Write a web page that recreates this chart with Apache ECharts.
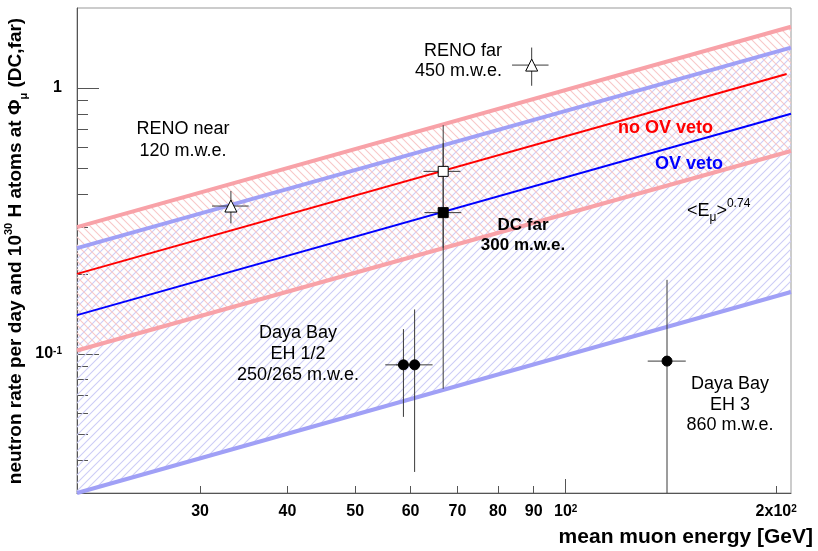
<!DOCTYPE html>
<html>
<head>
<meta charset="utf-8">
<script src="https://cdn.jsdelivr.net/npm/echarts@6/dist/echarts.min.js"></script>
<style>
  html, body { margin: 0; padding: 0; background: #fff; }
  #chart { width: 818px; height: 551px; }
</style>
</head>
<body>
<div id="chart"></div>
<script>
// axis ranges
const xRange = [20, 210];
const yRange = [0.03, 2];

// ticks and labels
const xMajorTicks = [100];
const xMinorTicks = [30, 40, 50, 60, 70, 80, 90, 200];
const xLabelValues = [30, 40, 50, 60, 70, 80, 90, 100, 200];
const xLabelTexts = ['30', '40', '50', '60', '70', '80', '90', '10{sup|2}', '2x10{sup|2}'];
const yMajorTicks = [0.1, 1];
const yMinorTicks = [0.04, 0.05, 0.06, 0.07, 0.08, 0.09, 0.2, 0.3, 0.4, 0.5, 0.6, 0.7, 0.8, 0.9];
const yLabelValues = [0.1, 1];
const yLabelTexts = ['10{sup|-1}', '1'];

// <E_mu>^0.74 model lines, end points
const lineE = [20, 210];
const noVetoE = [20, 207];
const noVeto = [0.2, 1.13];
const ovVeto = [0.14, 0.80];
const noVetoUp = [0.30, 1.70];
const noVetoLow = [0.103, 0.58];
const ovVetoUp = [0.25, 1.42];
const ovVetoLow = [0.03, 0.171];

// measurements: [E, rate, E low, E high, rate low, rate high]
const renoPts = [[33.2, 0.36, 31.2, 35.2, 0.31, 0.41], [89.4, 1.22, 83.8, 94.5, 1.02, 1.42]];
const dcNoVetoPts = [[66.8, 0.486, 62.6, 70.7, 0.251, 0.725]];
const dcVetoPts = [[66.8, 0.34, 62.8, 70.9, 0.074, 0.62]];
const dayaBayPts = [[58.6, 0.091, 55.2, 62.0, 0.058, 0.124], [60.8, 0.091, 57.2, 64.5, 0.036, 0.147], [139.6, 0.094, 131, 148.5, 0.03, 0.19]];

const FONT = "'Liberation Sans', Arial, sans-serif";

function hatch(color, dir) {
    const c = document.createElement('canvas');
    c.width = 8; c.height = 8;
    const g = c.getContext('2d');
    g.strokeStyle = color;
    g.lineWidth = 1.1;
    g.beginPath();
    if (dir > 0) { // "/"
        g.moveTo(-2, 10); g.lineTo(10, -2);
        g.moveTo(-2, 2); g.lineTo(2, -2);
        g.moveTo(6, 10); g.lineTo(10, 6);
    } else { // "\"
        g.moveTo(-2, -2); g.lineTo(10, 10);
        g.moveTo(6, -2); g.lineTo(10, 2);
        g.moveTo(-2, 6); g.lineTo(2, 10);
    }
    g.stroke();
    return { image: c, repeat: 'repeat' };
}

function band(lo, hi, fill) {
    return {
        type: 'custom', silent: true, z: 1,
        data: [[lineE[0], lo[0]]],
        renderItem: function (params, api) {
            const pts = [];
            for (let i = 0; i < lineE.length; i++) pts.push(api.coord([lineE[i], lo[i]]));
            for (let i = lineE.length - 1; i >= 0; i--) pts.push(api.coord([lineE[i], hi[i]]));
            return { type: 'polygon', shape: { points: pts }, style: { fill: fill, stroke: null } };
        }
    };
}

function modelLine(xs, ys, color, width, z) {
    return {
        type: 'line', silent: true, z: z, symbol: 'none',
        data: xs.map((x, i) => [x, ys[i]]),
        lineStyle: { color: color, width: width }
    };
}

function errBars(pts) {
    return {
        type: 'custom', silent: true, z: 4, clip: true,
        data: pts,
        renderItem: function (params, api) {
            const e = api.value(0), r = api.value(1);
            const c = api.coord([e, r]);
            const xl = api.coord([api.value(2), r]);
            const xh = api.coord([api.value(3), r]);
            const yl = api.coord([e, api.value(4)]);
            const yh = api.coord([e, api.value(5)]);
            const st = { stroke: '#3a3a3a', lineWidth: 1 };
            return {
                type: 'group', children: [
                    { type: 'line', shape: { x1: xl[0], y1: c[1], x2: xh[0], y2: c[1] }, style: st },
                    { type: 'line', shape: { x1: c[0], y1: yl[1], x2: c[0], y2: yh[1] }, style: st }
                ]
            };
        }
    };
}

function markers(pts, symbol, size, fill) {
    return {
        type: 'scatter', silent: true, z: 5,
        symbol: symbol, symbolSize: size,
        data: pts.map(p => [p[0], p[1]]),
        itemStyle: { color: fill, borderColor: '#000', borderWidth: 1, opacity: 1 }
    };
}

const supRich = {
    sup: { fontSize: 10, fontWeight: 'bold', fontFamily: FONT, color: '#000', verticalAlign: 'top', lineHeight: 10 }
};

function logAxis(range, ticks, len, labels, isX) {
    return {
        type: 'log', logBase: 10, min: range[0], max: range[1],
        position: isX ? 'bottom' : 'left',
        axisLine: { show: labels != null, lineStyle: { color: '#555', width: 1 } },
        axisTick: { show: true, inside: true, length: len, customValues: ticks, lineStyle: { color: '#555', width: 1 } },
        axisLabel: labels ? {
            show: true,
            customValues: labels[0],
            margin: isX ? 11 : 15,
            color: '#000', fontSize: 16, fontWeight: 'bold', fontFamily: FONT,
            formatter: function (v) {
                const i = labels[0].findIndex(t => Math.abs(t - v) / t < 1e-6);
                return i >= 0 ? labels[1][i] : '';
            },
            rich: supRich
        } : { show: false },
        splitLine: { show: false },
        minorTick: { show: false }
    };
}

const chart = echarts.init(document.getElementById('chart'), null, { renderer: 'canvas' });

chart.setOption({
    animation: false,
    backgroundColor: '#fff',
    grid: { left: 77, right: 27, top: 8, bottom: 58, show: true, borderColor: '#999', borderWidth: 1, backgroundColor: 'transparent' },
    xAxis: [
        logAxis(xRange, xMajorTicks, 14, [xLabelValues, xLabelTexts], true),
        logAxis(xRange, xMinorTicks, 7, null, true)
    ],
    yAxis: [
        logAxis(yRange, yMajorTicks, 22, [yLabelValues, yLabelTexts], false),
        logAxis(yRange, yMinorTicks, 11, null, false)
    ],
    series: [
        band(ovVetoLow, ovVetoUp, hatch('#cdcdf6', 1)),
        band(noVetoLow, noVetoUp, hatch('#f8c8c8', -1)),
        modelLine(lineE, ovVetoLow, '#a0a0f6', 4, 2),
        modelLine(lineE, ovVetoUp, '#a0a0f6', 4, 2),
        modelLine(lineE, noVetoLow, '#f8a2a8', 4, 2),
        modelLine(lineE, noVetoUp, '#f8a2a8', 4, 2),
        modelLine(noVetoE, noVeto, '#ff0000', 2, 3),
        modelLine(lineE, ovVeto, '#0000ff', 2, 3),
        errBars(renoPts),
        errBars(dcNoVetoPts),
        errBars(dcVetoPts),
        errBars(dayaBayPts),
        markers(renoPts, 'triangle', 12, '#fff'),
        markers(dcNoVetoPts, 'rect', 10, '#fff'),
        markers(dcVetoPts, 'rect', 10, '#000'),
        markers(dayaBayPts, 'circle', 10, '#000')
    ],
    graphic: [
        { type: 'text', x: 183, y: 140, z: 10, style: { text: 'RENO near\n120 m.w.e.', font: '18px ' + FONT, fill: '#000', align: 'center', verticalAlign: 'middle', lineHeight: 22 } },
        { type: 'text', x: 502, y: 61, z: 10, style: { text: 'RENO far\n450 m.w.e.', font: '18px ' + FONT, fill: '#000', align: 'right', verticalAlign: 'middle', lineHeight: 20 } },
        { type: 'text', x: 523, y: 235, z: 10, style: { text: 'DC far\n300 m.w.e.', font: 'bold 17px ' + FONT, fill: '#000', align: 'center', verticalAlign: 'middle', lineHeight: 20 } },
        { type: 'text', x: 298, y: 354, z: 10, style: { text: 'Daya Bay\nEH 1/2\n250/265 m.w.e.', font: '18px ' + FONT, fill: '#000', align: 'center', verticalAlign: 'middle', lineHeight: 21 } },
        { type: 'text', x: 730, y: 405, z: 10, style: { text: 'Daya Bay\nEH 3\n860 m.w.e.', font: '18px ' + FONT, fill: '#000', align: 'center', verticalAlign: 'middle', lineHeight: 20.5 } },
        { type: 'text', x: 618, y: 128, z: 10, style: { text: 'no OV veto', font: 'bold 18px ' + FONT, fill: '#ff0000', align: 'left', verticalAlign: 'middle' } },
        { type: 'text', x: 655, y: 164, z: 10, style: { text: 'OV veto', font: 'bold 18px ' + FONT, fill: '#0000ff', align: 'left', verticalAlign: 'middle' } },
        {
            type: 'text', x: 687, y: 211, z: 10,
            style: {
                text: '<E{sub|μ}>{sup|0.74}', fontSize: 18, fontFamily: FONT, fill: '#000', align: 'left', verticalAlign: 'middle', lineHeight: 26,
                rich: {
                    sub: { fontSize: 12, fontFamily: FONT, verticalAlign: 'bottom', lineHeight: 12 },
                    sup: { fontSize: 12, fontFamily: FONT, verticalAlign: 'top', lineHeight: 12 }
                }
            }
        },
        {
            type: 'text', x: 16, y: 251, rotation: Math.PI / 2, z: 10,
            style: {
                text: 'neutron rate per day and 10{sup|30} H atoms at Φ{sub|μ} (DC,far)',
                fontSize: 19, fontWeight: 'bold', fontFamily: FONT, fill: '#000', align: 'center', verticalAlign: 'middle', lineHeight: 26,
                rich: {
                    sup: { fontSize: 11, fontWeight: 'bold', fontFamily: FONT, verticalAlign: 'top', lineHeight: 12 },
                    sub: { fontSize: 11, fontWeight: 'bold', fontFamily: FONT, verticalAlign: 'bottom', lineHeight: 12 }
                }
            }
        },
        { type: 'text', x: 813, y: 537, z: 10, style: { text: 'mean muon energy [GeV]', font: 'bold 21px ' + FONT, fill: '#000', align: 'right', verticalAlign: 'middle' } }
    ]
});
</script>
</body>
</html>
